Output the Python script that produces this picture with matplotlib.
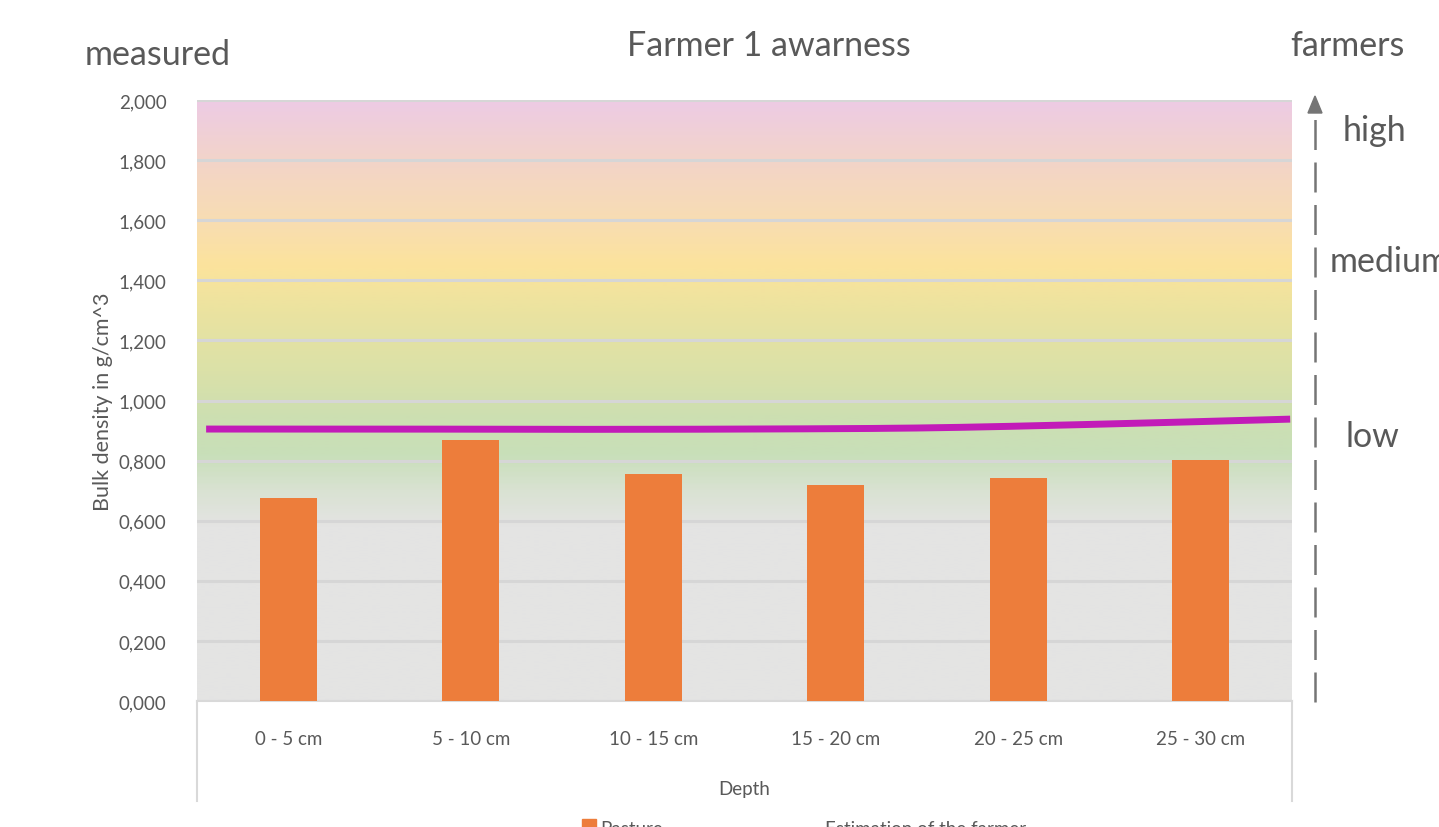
import numpy as np
import matplotlib
matplotlib.use("Agg")
import matplotlib.pyplot as plt
from matplotlib.colors import LinearSegmentedColormap
from matplotlib.patches import Rectangle, Polygon
from matplotlib.lines import Line2D

plt.rcParams['font.family'] = ['Lato', 'DejaVu Sans']

# ---- data ----
depths = ["0 - 5 cm", "5 - 10 cm", "10 - 15 cm", "15 - 20 cm", "20 - 25 cm", "25 - 30 cm"]
pasture = [0.676, 0.869, 0.755, 0.719, 0.742, 0.802]
# farmer's estimate at the depth boundaries 0, 5, ..., 30 cm
estimate_depth_cm = [0, 5, 10, 15, 20, 25, 30]
estimate = [0.905, 0.905, 0.904, 0.905, 0.909, 0.922, 0.938]
yticks = [0.0, 0.2, 0.4, 0.6, 0.8, 1.0, 1.2, 1.4, 1.6, 1.8, 2.0]
awareness_levels = ["high", "medium", "low"]

TXT = "#595959"
W, H = 1439, 828
fig = plt.figure(figsize=(W / 100, H / 100), dpi=100)
fig.patch.set_facecolor("white")

def fx(px):
    return px / W

def fy(py):
    return 1 - py / H

ax = fig.add_axes([fx(197), fy(702), fx(1292) - fx(197), fy(101) - fy(702)])
x = np.arange(len(depths))
ax.set_xlim(-0.5, len(depths) - 0.5)
ax.set_ylim(0, 2.0)

# background colour band running from low (green) to high (pink) density
stops = [
    (0.00, "#e4e4e4"), (0.58, "#e4e4e3"), (0.70, "#d9e2d2"),
    (0.82, "#c8dfb9"), (0.95, "#cddfb1"), (1.10, "#dbe1a8"),
    (1.30, "#ebe3a0"), (1.45, "#fce39c"), (1.60, "#f8ddb2"),
    (1.78, "#f3d5c6"), (2.00, "#edcbe4"),
]
cmap = LinearSegmentedColormap.from_list(
    "band", [(v / 2.0, c) for v, c in stops])
grad = np.linspace(0, 2.0, 400).reshape(-1, 1)
ax.imshow(grad, cmap=cmap, vmin=0, vmax=2.0, origin="lower", aspect="auto",
          extent=[-0.5, len(depths) - 0.5, 0, 2.0], zorder=0, interpolation="bilinear")

for yv in yticks:
    ax.axhline(yv, color="#d6d6d6", lw=2.2, zorder=1)

ax.bar(x, pasture, width=0.31, color="#ed7d3b", zorder=3)

# smooth curve through the farmer's estimate (Catmull-Rom)
ex = np.array(estimate_depth_cm) / 5.0 - 0.5
ey = np.array(estimate)
px_ = np.concatenate([[2 * ex[0] - ex[1]], ex, [2 * ex[-1] - ex[-2]]])
py_ = np.concatenate([[2 * ey[0] - ey[1]], ey, [2 * ey[-1] - ey[-2]]])
cx, cy = [], []
t = np.linspace(0, 1, 30)
for i in range(1, len(px_) - 2):
    for arr, out in ((px_, cx), (py_, cy)):
        p0, p1, p2, p3 = arr[i - 1], arr[i], arr[i + 1], arr[i + 2]
        out.extend(0.5 * (2 * p1 + (-p0 + p2) * t + (2 * p0 - 5 * p1 + 4 * p2 - p3) * t ** 2
                          + (-p0 + 3 * p1 - 3 * p2 + p3) * t ** 3))
cx = np.array(cx)
cx = -0.45 + (cx + 0.5) * (5.49 + 0.45) / 6.0
ax.plot(cx, cy, color="#c21bb8", lw=5, solid_capstyle="butt", zorder=4)

ax.set_yticks(yticks)
ax.set_yticklabels([f"{v:.3f}".replace(".", ",") if v < 1 else
                    f"{int(v)},{int(round((v % 1) * 1000)):03d}" for v in yticks])
ax.set_xticks(x)
ax.set_xticklabels(depths)
ax.tick_params(axis="y", length=0, pad=22, labelsize=13.5, labelcolor=TXT)
ax.tick_params(axis="x", length=0, pad=21, labelsize=13.5, labelcolor=TXT)
for s in ["top", "right", "left"]:
    ax.spines[s].set_visible(False)
ax.spines["bottom"].set_color("#d9d9d9")
ax.spines["bottom"].set_linewidth(1.5)

ax.set_ylabel("Bulk density in g/cm^3", fontsize=15.5, color=TXT, labelpad=4)
ax.set_xlabel("Depth", fontsize=13.5, color=TXT, labelpad=24)

# frame under the category axis
for xp in (197, 1292):
    fig.add_artist(Line2D([fx(xp), fx(xp)], [fy(702), fy(802)], color="#d9d9d9", lw=1.5))

# headings
fig.text(fx(85), fy(55), "measured", fontsize=24.5, color=TXT, ha="left", va="center")
fig.text(fx(769), fy(46), "Farmer 1 awarness", fontsize=24.5, color=TXT, ha="center", va="center")
fig.text(fx(1290), fy(46), "farmers", fontsize=24.5, color=TXT, ha="left", va="center")

# farmer awareness scale
fig.add_artist(Line2D([fx(1315), fx(1315)], [fy(703), fy(112)], color="#757575", lw=1.8,
                      linestyle=(0, (12, 5))))
fig.add_artist(Polygon([[fx(1308), fy(114)], [fx(1322), fy(114)], [fx(1315), fy(97)]],
                       closed=True, color="#757575", transform=fig.transFigure))
for label, xp, yp in zip(awareness_levels, (1343, 1330, 1345), (131, 262, 437)):
    fig.text(fx(xp), fy(yp), label, fontsize=24.5, color=TXT, ha="left", va="center")

# legend (cut by the lower edge)
fig.add_artist(Rectangle((fx(582), fy(836)), fx(14), fy(820) - fy(836), color="#ed7d3b",
                         transform=fig.transFigure))
fig.text(fx(600), fy(830), "Pasture", fontsize=13.5, color=TXT, ha="left", va="center")
fig.text(fx(825), fy(830), "Estimation of the farmer", fontsize=13.5, color=TXT,
         ha="left", va="center")

fig.savefig("out.png", dpi=100)
